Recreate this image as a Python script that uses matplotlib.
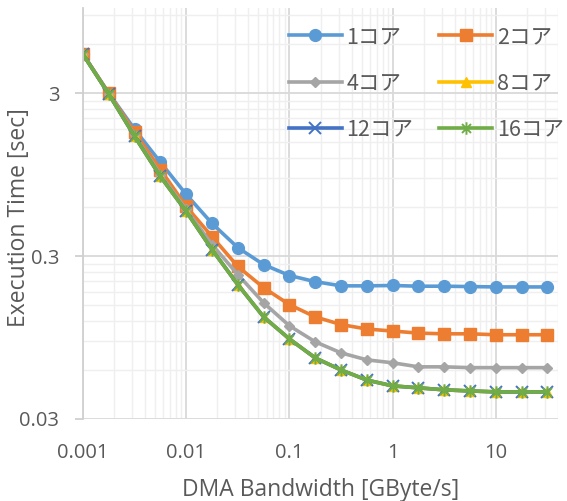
import numpy as np
import matplotlib
matplotlib.use("Agg")
import matplotlib.pyplot as plt
from matplotlib.path import Path
from matplotlib.ticker import FixedLocator, FixedFormatter, NullFormatter

plt.rcParams['font.family'] = ['Open Sans', 'Noto Sans CJK JP', 'DejaVu Sans']

# Data
bandwidth = [10 ** (-3 + k / 4) for k in range(19)]  # GByte/s
labels = ["1コア", "2コア", "4コア", "8コア", "12コア", "16コア"]
t_1core = [5.2, 3.0, 1.80, 1.13, 0.717, 0.476, 0.338, 0.266, 0.228, 0.209, 0.197,
           0.197, 0.198, 0.196, 0.196, 0.195, 0.194, 0.194, 0.194]
t_2core = [5.2, 3.0, 1.73, 1.02, 0.605, 0.395, 0.259, 0.192, 0.151, 0.127, 0.114,
           0.107, 0.104, 0.101, 0.100, 0.100, 0.0987, 0.0987, 0.0987]
t_4core = [5.2, 2.97, 1.66, 0.95, 0.58, 0.353, 0.231, 0.155, 0.112, 0.0893, 0.0764,
           0.0692, 0.0664, 0.0627, 0.0627, 0.0620, 0.0620, 0.0620, 0.0620]
t_8core = [5.2, 2.96, 1.63, 0.925, 0.564, 0.329, 0.2005, 0.127, 0.093, 0.0711, 0.060,
           0.052, 0.0479, 0.0466, 0.0453, 0.0446, 0.0440, 0.0440, 0.0440]
t_12core = [5.2, 2.96, 1.63, 0.925, 0.564, 0.329, 0.2005, 0.127, 0.093, 0.0711, 0.060,
            0.052, 0.0479, 0.0466, 0.0453, 0.0446, 0.0440, 0.0440, 0.0440]
t_16core = [5.2, 2.96, 1.63, 0.925, 0.564, 0.329, 0.2005, 0.127, 0.093, 0.0711, 0.060,
            0.052, 0.0479, 0.0466, 0.0453, 0.0446, 0.0440, 0.0440, 0.0440]
x_ticks = [0.001, 0.01, 0.1, 1, 10]
x_tick_labels = ["0.001", "0.01", "0.1", "1", "10"]
y_ticks = [0.03, 0.3, 3]
y_tick_labels = ["0.03", "0.3", "3"]

series = [t_1core, t_2core, t_4core, t_8core, t_12core, t_16core]
colors = ["#5B9BD5", "#ED7D31", "#A5A5A5", "#FFC000", "#4472C4", "#70AD47"]

star = Path([(0, -1), (0, 1), (-0.72, -0.72), (0.72, 0.72), (-0.72, 0.72), (0.72, -0.72)],
            [Path.MOVETO, Path.LINETO, Path.MOVETO, Path.LINETO, Path.MOVETO, Path.LINETO])
markers = ["o", "s", "D", "^", "x", star]
msizes = [8.5, 8.0, 5.5, 7.5, 8.5, 9.0]

W, H = 567, 501
fig = plt.figure(figsize=(W / 100, H / 100), dpi=100)
ax = fig.add_axes([83 / W, (H - 419) / H, (558 - 83) / W, (419 - 8) / H])

handles = []
for ys, lab, c, m, ms in zip(series, labels, colors, markers, msizes):
    kw = dict(color=c, lw=2.6, marker=m, markersize=ms, label=lab,
              markerfacecolor=c, markeredgecolor=c)
    if m == "x" or m is star:
        kw["markeredgewidth"] = 1.4
    h, = ax.plot(bandwidth, ys, **kw)
    handles.append(h)

ax.set_xscale("log")
ax.set_yscale("log")
ax.set_xlim(0.001, 40)
ax.set_ylim(0.03, 10)

ax.xaxis.set_major_locator(FixedLocator(x_ticks))
ax.xaxis.set_major_formatter(FixedFormatter(x_tick_labels))
xminor = [m * 10.0 ** e for e in range(-3, 2) for m in range(2, 10)]
ax.xaxis.set_minor_locator(FixedLocator(xminor))
ax.xaxis.set_minor_formatter(NullFormatter())
ax.yaxis.set_major_locator(FixedLocator(y_ticks))
ax.yaxis.set_major_formatter(FixedFormatter(y_tick_labels))
yminor = [0.03 * k for k in range(2, 10)] + [0.3 * k for k in range(2, 10)] + [6, 9]
ax.yaxis.set_minor_locator(FixedLocator(yminor))
ax.yaxis.set_minor_formatter(NullFormatter())

ax.grid(True, which="major", color="#D9D9D9", lw=1.3)
ax.grid(True, which="minor", color="#EFEFEF", lw=1.0)
ax.set_axisbelow(True)

for s in ["top", "right", "bottom"]:
    ax.spines[s].set_visible(False)
ax.spines["left"].set_color("#D0D0D0")
ax.spines["left"].set_linewidth(1.3)

ax.tick_params(axis="x", which="both", length=0, pad=17, labelsize=14.5, labelcolor="#595959")
ax.tick_params(axis="y", which="major", length=6, width=1.3, color="#D0D0D0",
               pad=11, labelsize=14.5, labelcolor="#595959")
ax.tick_params(axis="y", which="minor", length=0)

ax.set_xlabel("DMA Bandwidth [GByte/s]", fontsize=16.5, color="#595959", labelpad=11)
ax.set_ylabel("Execution Time [sec]", fontsize=16.5, color="#595959")
ax.yaxis.set_label_coords((31 - 83) / 475, 0.49)

# row-major legend for 2 columns: column-major order of handles
col_order = [0, 2, 4, 1, 3, 5]
leg = ax.legend([handles[i] for i in col_order], [labels[i] for i in col_order],
                ncol=2, loc="upper left", bbox_to_anchor=(289 / W, 1 - 26 / H),
                bbox_transform=fig.transFigure, frameon=False, fontsize=15.5,
                handlelength=2.45, handletextpad=0.22, columnspacing=1.2,
                labelspacing=1.12, borderpad=0, borderaxespad=0)
for t in leg.get_texts():
    t.set_color("#595959")
    t.set_family(["Noto Sans CJK JP", "DejaVu Sans"])

fig.savefig("out.png", dpi=100)
